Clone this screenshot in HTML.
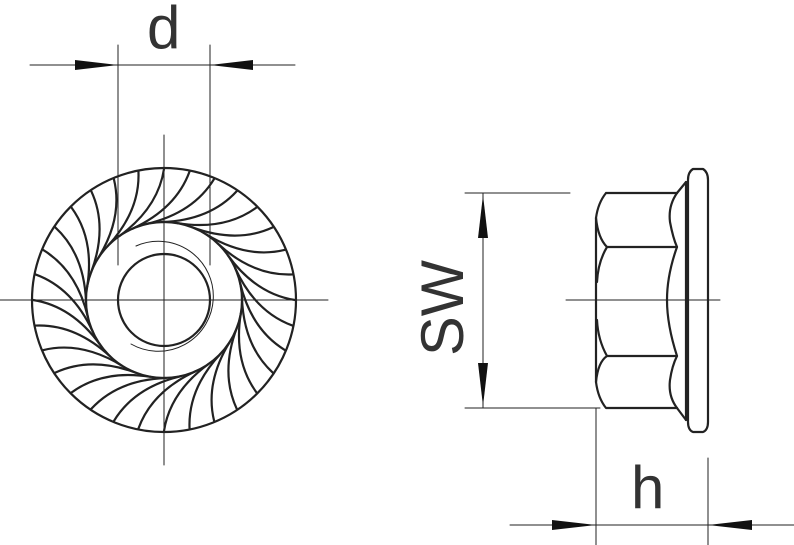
<!DOCTYPE html>
<html><head><meta charset="utf-8"><style>html,body{margin:0;padding:0;background:#fff}svg{display:block}</style></head>
<body>
<svg width="794" height="545" viewBox="0 0 794 545" xmlns="http://www.w3.org/2000/svg" xmlns:xlink="http://www.w3.org/1999/xlink">
<defs>
  <path id="t" d="M295 300 Q256 294 227.9 255.3"/>
</defs>
<g stroke="#222" fill="none" stroke-linecap="round">
  <g stroke-width="1">
    <line x1="0" y1="300" x2="328" y2="300"/>
    <line x1="164" y1="135" x2="164" y2="465"/>
    <line x1="566" y1="300" x2="720" y2="300"/>
    <line x1="118" y1="45" x2="118" y2="265"/>
    <line x1="210" y1="45" x2="210" y2="265"/>
    <line x1="30" y1="65" x2="295" y2="65"/>
    <line x1="465" y1="193" x2="570" y2="193"/>
    <line x1="465" y1="408" x2="600" y2="408"/>
    <line x1="483" y1="193" x2="483" y2="408"/>
    <line x1="596" y1="408" x2="596" y2="545"/>
    <line x1="708" y1="458" x2="708" y2="545"/>
    <line x1="510" y1="525" x2="794" y2="525"/>
  </g>
  <g stroke-width="2.2">
    <circle cx="164" cy="300" r="132"/>
    <circle cx="164" cy="300" r="78"/>
    <circle cx="164" cy="300" r="46"/>
    <use xlink:href="#t" transform="rotate(0 164 300)"/>
    <use xlink:href="#t" transform="rotate(11.25 164 300)"/>
    <use xlink:href="#t" transform="rotate(22.5 164 300)"/>
    <use xlink:href="#t" transform="rotate(33.75 164 300)"/>
    <use xlink:href="#t" transform="rotate(45 164 300)"/>
    <use xlink:href="#t" transform="rotate(56.25 164 300)"/>
    <use xlink:href="#t" transform="rotate(67.5 164 300)"/>
    <use xlink:href="#t" transform="rotate(78.75 164 300)"/>
    <use xlink:href="#t" transform="rotate(90 164 300)"/>
    <use xlink:href="#t" transform="rotate(101.25 164 300)"/>
    <use xlink:href="#t" transform="rotate(112.5 164 300)"/>
    <use xlink:href="#t" transform="rotate(123.75 164 300)"/>
    <use xlink:href="#t" transform="rotate(135 164 300)"/>
    <use xlink:href="#t" transform="rotate(146.25 164 300)"/>
    <use xlink:href="#t" transform="rotate(157.5 164 300)"/>
    <use xlink:href="#t" transform="rotate(168.75 164 300)"/>
    <use xlink:href="#t" transform="rotate(180 164 300)"/>
    <use xlink:href="#t" transform="rotate(191.25 164 300)"/>
    <use xlink:href="#t" transform="rotate(202.5 164 300)"/>
    <use xlink:href="#t" transform="rotate(213.75 164 300)"/>
    <use xlink:href="#t" transform="rotate(225 164 300)"/>
    <use xlink:href="#t" transform="rotate(236.25 164 300)"/>
    <use xlink:href="#t" transform="rotate(247.5 164 300)"/>
    <use xlink:href="#t" transform="rotate(258.75 164 300)"/>
    <use xlink:href="#t" transform="rotate(270 164 300)"/>
    <use xlink:href="#t" transform="rotate(281.25 164 300)"/>
    <use xlink:href="#t" transform="rotate(292.5 164 300)"/>
    <use xlink:href="#t" transform="rotate(303.75 164 300)"/>
    <use xlink:href="#t" transform="rotate(315 164 300)"/>
    <use xlink:href="#t" transform="rotate(326.25 164 300)"/>
    <use xlink:href="#t" transform="rotate(337.5 164 300)"/>
    <use xlink:href="#t" transform="rotate(348.75 164 300)"/>
  </g>
  <path d="M136 246 A55 55 0 1 1 131 344" stroke-width="1"/>
  <g stroke-width="2.2" stroke-linejoin="round">
    <path d="M606 193 H677 M606 193 Q598 203 596 218 V382 Q598 398 606 408 H677"/>
    <path d="M596 218 Q598 238 607 247 H677 M607 247 Q598 262 597 282"/>
    <path d="M596 382 Q598 362 607 356 H677 M607 356 Q598 340 597 320"/>
    <path d="M677 193 Q668 206 670 222 Q673 238 677 247 Q667 275 667 300 Q667 325 677 356 Q672 366 670 380 Q668 396 677 408"/>
    <path d="M677 193 L686 182 M677 408 L686 420"/>
    <line x1="686" y1="182" x2="686" y2="420"/>
    <path d="M693 169 H703 Q708 172 708 180 V422 Q708 430 703 432 H693 Q688 430 688 422 V180 Q688 172 693 169 Z"/>
  </g>
</g>
<g fill="#111">
  <polygon points="75,60 118,65 75,70"/>
  <polygon points="253,60 210,65 253,70"/>
  <polygon points="478,238 483,195 488,238"/>
  <polygon points="478,363 483,406 488,363"/>
  <polygon points="552,520 596,525 552,530"/>
  <polygon points="752,520 708,525 752,530"/>
</g>
<g font-family="Liberation Sans, sans-serif" fill="#333">
  <text x="147" y="48" font-size="60">d</text>
  <text x="631" y="508" font-size="60">h</text>
  <text transform="translate(463,356) rotate(-90)" font-size="60" textLength="96" lengthAdjust="spacingAndGlyphs">SW</text>
</g>
</svg>
</body></html>
